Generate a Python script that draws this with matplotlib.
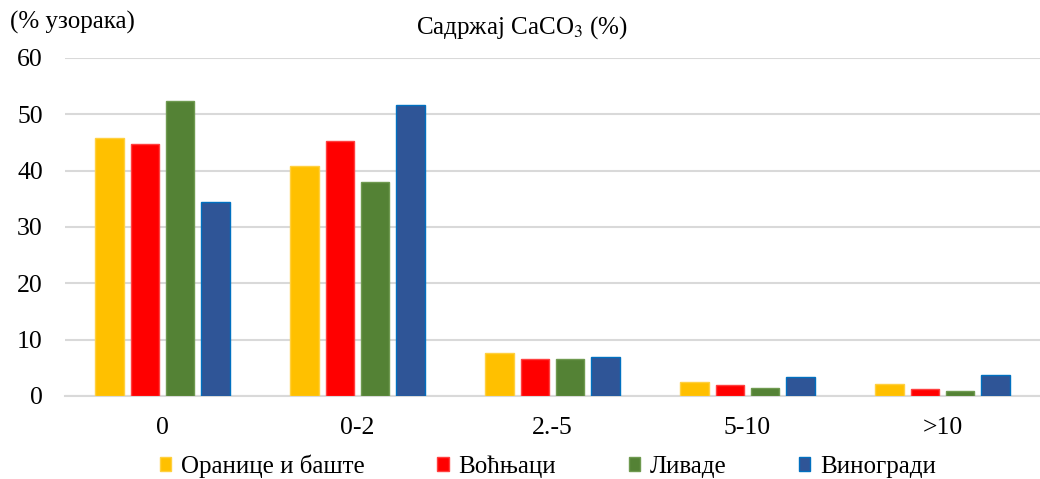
import matplotlib
matplotlib.use("Agg")
import matplotlib.pyplot as plt
import numpy as np

plt.rcParams['font.family'] = ['Liberation Serif', 'DejaVu Serif']
plt.rcParams['mathtext.fontset'] = 'stix'

# data
categories = ['0', '0-2', '2.-5', '5-10', '>10']
series_names = ['Оранице и баште', 'Воћњаци', 'Ливаде', 'Виногради']
oranice = [45.8, 40.8, 7.7, 2.5, 2.1]
vocnjaci = [44.7, 45.2, 6.5, 1.9, 1.2]
livade = [52.4, 37.9, 6.5, 1.4, 0.9]
vinogradi = [34.4, 51.7, 7.0, 3.3, 3.8]
yticks = [0, 10, 20, 30, 40, 50, 60]

series = [oranice, vocnjaci, livade, vinogradi]
colors = ['#FFC000', '#FF0000', '#548235', '#2F5597']
edges = ['#FFD040', '#FF4040', '#6F9A50', '#0070C0']

fig = plt.figure(figsize=(10.4, 4.79), dpi=100)
ax = fig.add_axes([65 / 1040, 83 / 479, 975 / 1040, 338 / 479])

x = np.arange(len(categories))
pitch = 0.181
width = 0.145
for i, (vals, c, ec, name) in enumerate(zip(series, colors, edges, series_names)):
    ax.bar(x + (i - 1.5) * pitch, vals, width, color=c, edgecolor=ec,
           linewidth=1.0, label=name, zorder=3)

ax.set_xlim(-0.5, len(categories) - 0.5)
ax.set_ylim(0, 60)
ax.set_yticks(yticks)
ax.set_xticks(x)
ax.set_xticklabels(categories)
ax.yaxis.grid(True, color='#D9D9D9', linewidth=1.5, zorder=0)
ax.set_axisbelow(True)
for s in ['top', 'right', 'left']:
    ax.spines[s].set_visible(False)
ax.spines['bottom'].set_color('#D9D9D9')
ax.spines['bottom'].set_linewidth(1.5)
ax.tick_params(axis='both', length=0, labelsize=18.5, colors='#000000')
ax.tick_params(axis='y', pad=16)
ax.tick_params(axis='x', pad=15)

fig.text(10 / 1040, 1 - 22 / 479, '(% узорака)', fontsize=18, va='center', ha='left')
fig.text(522 / 1040, 1 - 28 / 479, 'Садржај CaCO$_3$ (%)', fontsize=18, va='center', ha='center')

fig.legend(loc='center', bbox_to_anchor=(548 / 1040, 1 - 466 / 479), ncol=4,
           frameon=False, fontsize=18, handlelength=0.45, handleheight=0.45,
           handletextpad=0.4, columnspacing=2.9, borderaxespad=0)

fig.savefig('out.png', dpi=100)
